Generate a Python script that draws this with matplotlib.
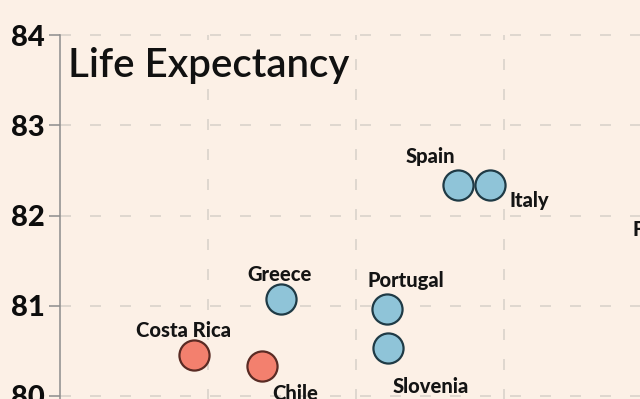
import matplotlib.pyplot as plt

# data (x has no visible labels, units are arbitrary)
countries = ['Spain', 'Italy', 'Greece', 'Portugal', 'Slovenia', 'Costa Rica', 'Chile', 'France']
spend = [2.69, 2.905, 1.493, 2.21, 2.216, 0.905, 1.365, 4.4]
life = [82.34, 82.34, 81.07, 80.96, 80.53, 80.45, 80.33, 82.0]
group = ['eu', 'eu', 'eu', 'eu', 'eu', 'latam', 'latam', 'eu']

# label offsets in pixels (dx, dy down) and alignment
label_pos = {
    'Spain': (-3, -22, 'right'),
    'Italy': (20, 22, 'left'),
    'Greece': (-34, -18, 'left'),
    'Portugal': (-20, -22, 'left'),
    'Slovenia': (5, 45, 'left'),
    'Costa Rica': (-58, -18, 'left'),
    'Chile': (10, 34, 'left'),
    'France': (-79, 20, 'left'),
}

fill = {'eu': '#8fc4d8', 'latam': '#f3806e'}
edge = {'eu': '#1f3a45', 'latam': '#5a2b24'}
bg = '#fcf0e6'

W, H = 640, 399
px_x = 148.0    # pixels per x unit
px_y = 90.25    # pixels per year
x0, y_top = 60, 35
xlim = (0, 5)
ylim = (78, 84)

fig = plt.figure(figsize=(W / 100, H / 100), dpi=100, facecolor=bg)
aw = (xlim[1] - xlim[0]) * px_x / W
ah = (ylim[1] - ylim[0]) * px_y / H
ax = fig.add_axes([x0 / W, 1 - y_top / H - ah, aw, ah])
ax.set_facecolor(bg)
ax.set_xlim(*xlim)
ax.set_ylim(*ylim)

for s in ['top', 'right', 'bottom']:
    ax.spines[s].set_visible(False)
ax.spines['left'].set_color('#8c8c8c')
ax.spines['left'].set_linewidth(1.1)

ax.set_xticks([1, 2, 3, 4])
ax.set_yticks([78, 79, 80, 81, 82, 83, 84])
ax.tick_params(axis='x', length=0, labelbottom=False)
ax.tick_params(axis='y', length=8, width=1.1, color='#8c8c8c', pad=3,
               labelsize=21, labelcolor='#0d0d0d')
for t in ax.get_yticklabels():
    t.set_fontweight('black')
    t.set_family('Lato')

ax.grid(True, color='#dad2cb', linewidth=1.2, linestyle=(0, (6.6, 11.4)))
ax.set_axisbelow(True)
for ln in ax.get_ygridlines() + ax.get_xgridlines():
    ln.set_clip_on(False)

for c, x, y, g in zip(countries, spend, life, group):
    ax.scatter(x, y, s=470, color=fill[g], edgecolor=edge[g], linewidth=1.6,
               zorder=3, clip_on=False)
    dx, dy, ha = label_pos[c]
    ax.annotate(c, (x, y), xytext=(dx * 0.72, -dy * 0.72), textcoords='offset points',
                ha=ha, va='baseline', fontsize=14.5, fontweight='black',
                family='Lato', color='#141414', zorder=4, annotation_clip=False)

fig.text(68 / W, 1 - 77 / H, 'Life Expectancy', fontsize=29, family='Lato',
         fontweight='semibold', color='#111111', ha='left', va='baseline')

fig.savefig('out.png', dpi=100, facecolor=bg)
